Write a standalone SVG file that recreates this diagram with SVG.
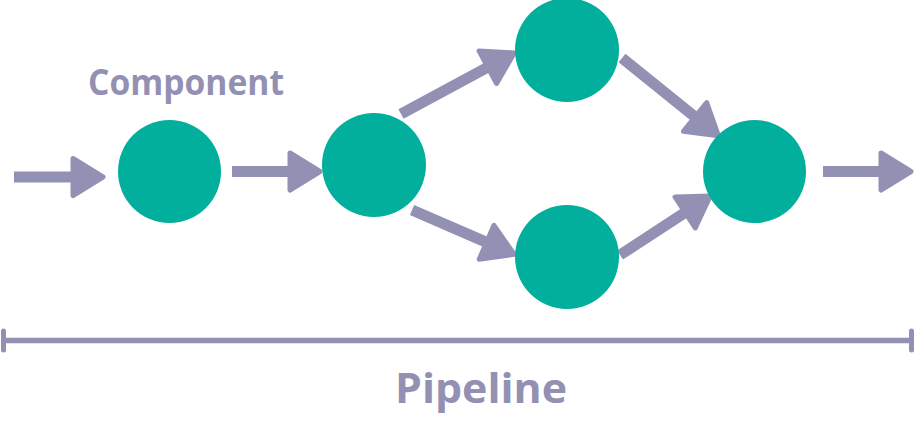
<svg xmlns="http://www.w3.org/2000/svg" width="915" height="427" viewBox="0 0 915 427">
<style>
.node{fill:#02AE9C}
.conn{stroke:#9391B3;stroke-width:11;fill:none;marker-end:url(#ah)}
.lbl{fill:#9391B3;font-family:"Open Sans","Liberation Sans",sans-serif;font-weight:700}
</style>
<defs>
<marker id="ah" markerUnits="userSpaceOnUse" markerWidth="60" markerHeight="60" viewBox="-20 -30 50 60" refX="0" refY="0" orient="auto" overflow="visible">
<path d="M-12,-18.5 L18,0 L-12,18.5 Z" fill="#9391B3" stroke="#9391B3" stroke-width="5" stroke-linejoin="round"/>
</marker>
</defs>
<rect width="915" height="427" fill="#fff"/>
<g id="connectors">
<line class="conn" x1="14" y1="177" x2="85" y2="177"/>
<line class="conn" x1="232" y1="171.5" x2="302" y2="171.5"/>
<line class="conn" x1="401" y1="114" x2="498.4" y2="61.5"/>
<line class="conn" x1="412" y1="210" x2="497.6" y2="247.1"/>
<line class="conn" x1="622" y1="58" x2="704.4" y2="124.5"/>
<line class="conn" x1="620" y1="255" x2="695.2" y2="205.9"/>
<line class="conn" x1="823" y1="171.5" x2="893" y2="171.5"/>
</g>
<g id="node1"><circle class="node" cx="169.5" cy="171.5" r="51.5"/></g>
<g id="node2"><circle class="node" cx="374" cy="165" r="52"/></g>
<g id="node3"><circle class="node" cx="567" cy="50" r="52"/></g>
<g id="node4"><circle class="node" cx="567" cy="257" r="52"/></g>
<g id="node5"><circle class="node" cx="754.5" cy="171.5" r="51.5"/></g>
<g id="component-label"><text class="lbl" x="88" y="95" font-size="35" textLength="196" lengthAdjust="spacingAndGlyphs">Component</text></g>
<g id="pipeline-bar">
<line x1="4" y1="340.5" x2="911" y2="340.5" stroke="#9391B3" stroke-width="5.5"/>
<line x1="3.5" y1="331" x2="3.5" y2="350" stroke="#9391B3" stroke-width="5" stroke-linecap="round"/>
<line x1="911.5" y1="331" x2="911.5" y2="350" stroke="#9391B3" stroke-width="5" stroke-linecap="round"/>
</g>
<g id="pipeline-label"><text class="lbl" x="395" y="403" font-size="42" font-weight="600" textLength="172" lengthAdjust="spacingAndGlyphs">Pipeline</text></g>
</svg>
